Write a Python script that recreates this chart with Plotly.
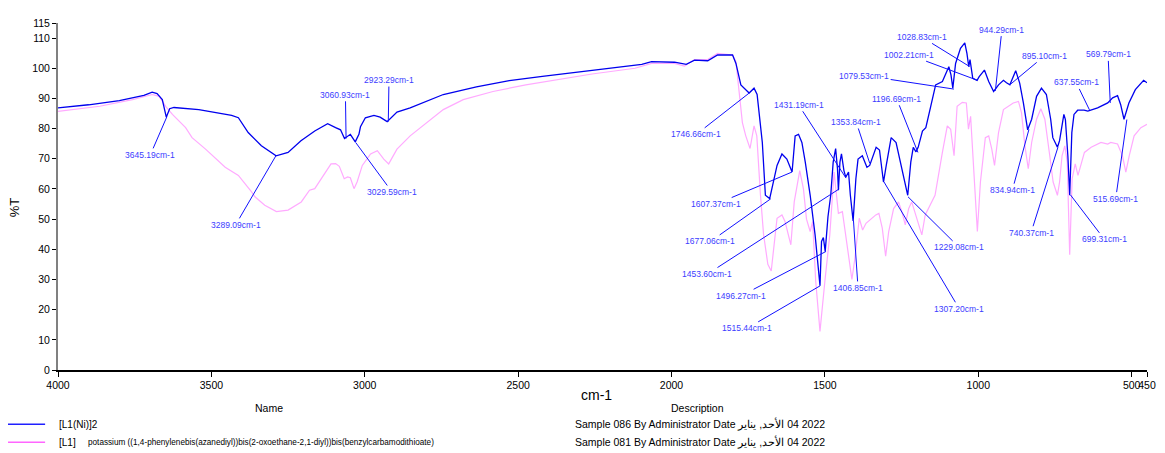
import plotly.graph_objects as go

# ---------------- data ----------------
ni_wn = [4000, 3900, 3800, 3720, 3693, 3677, 3660, 3647, 3636, 3622, 3541, 3470, 3434, 3412,
         3380, 3337, 3289, 3250, 3208, 3163, 3121, 3095, 3079, 3066, 3056, 3047, 3031, 3019,
         3014, 2998, 2970, 2950, 2927, 2895, 2852, 2798, 2744, 2636, 2529, 2421, 2313, 2206,
         2097, 2065, 1990, 1952, 1925, 1882, 1850, 1801, 1790, 1774, 1758, 1747, 1731, 1721,
         1704, 1694, 1680, 1667, 1656, 1640, 1624, 1607, 1597, 1586, 1575, 1564, 1548, 1532,
         1516, 1511, 1505, 1499, 1490, 1481, 1473, 1465, 1459, 1456, 1451, 1446, 1438, 1432,
         1423, 1417, 1408, 1399, 1392, 1378, 1363, 1354, 1333, 1322, 1309, 1300, 1284, 1268,
         1246, 1230, 1220, 1212, 1203, 1196, 1182, 1171, 1155, 1139, 1117, 1107, 1096, 1089,
         1083, 1074, 1058, 1044, 1037, 1031, 1027, 1018, 1012, 1004, 997, 980, 966, 950, 934,
         918, 908, 897, 878, 865, 853, 839, 826, 810, 794, 778, 764, 757, 742, 735, 721, 716,
         708, 702, 695, 688, 676, 655, 643, 611, 578, 562, 546, 536, 525, 509, 488, 466, 461, 450]
ni_t = [86.9, 87.9, 89.3, 91.0, 92.1, 91.6, 89.6, 83.8, 86.6, 87.0, 86.3, 85.0, 84.4, 83.6,
        78.7, 74.3, 71.0, 72.1, 76.0, 79.2, 81.6, 80.3, 79.6, 76.7, 77.4, 78.1, 75.6, 78.1,
        80.6, 83.6, 84.4, 83.8, 82.3, 85.5, 86.9, 89.1, 91.3, 93.8, 95.9, 97.3, 98.7, 100.0,
        101.3, 102.2, 102.0, 101.3, 102.7, 102.5, 104.4, 104.4, 101.6, 94.5, 92.7, 91.8, 93.4, 91.3,
        75.4, 57.9, 56.8, 63.4, 67.8, 71.6, 69.9, 65.6, 77.6, 78.1, 75.4, 68.9, 57.9, 44.8,
        27.9, 42.6, 43.9, 39.3, 50.8, 57.9, 68.9, 73.4, 66.7, 59.6, 68.9, 71.6, 66.1, 63.9,
        65.6, 57.9, 49.4, 63.4, 69.9, 71.0, 67.2, 67.8, 73.8, 72.9, 62.3, 67.8, 77.0, 75.4,
        65.6, 57.9, 68.9, 73.8, 72.3, 73.8, 79.2, 80.3, 87.4, 94.5, 95.6, 97.8, 100.5, 97.8,
        93.4, 101.6, 106.6, 108.4, 104.9, 100.5, 102.9, 96.7, 96.4, 96.0, 97.2, 99.4, 95.6, 92.3, 94.5,
        96.0, 95.2, 94.5, 99.2, 95.1, 88.5, 79.6, 83.1, 90.7, 93.4, 91.3, 83.1, 77.0, 73.8, 76.0, 84.7, 83.0,
        71.0, 57.9, 78.7, 84.7, 86.1, 86.1, 85.8, 86.9, 88.5, 90.2, 90.9, 88.0, 83.1, 88.5, 92.9, 95.6, 96.0, 95.2]

l1_wn = [4000, 3864, 3757, 3693, 3670, 3649, 3627, 3584, 3563, 3519, 3455, 3412, 3369, 3358,
         3326, 3288, 3250, 3207, 3180, 3163, 3110, 3095, 3083, 3067, 3056, 3047, 3035, 3025,
         3008, 2981, 2959, 2938, 2922, 2895, 2852, 2798, 2744, 2679, 2582, 2475, 2367, 2259,
         2119, 2065, 1990, 1958, 1925, 1882, 1850, 1801, 1790, 1780, 1769, 1758, 1744, 1731,
         1722, 1710, 1700, 1686, 1675, 1656, 1640, 1630, 1611, 1600, 1582, 1570, 1560, 1548,
         1540, 1530, 1516, 1500, 1484, 1470, 1456, 1443, 1430, 1412, 1402, 1388, 1377, 1366,
         1334, 1324, 1313, 1302, 1292, 1276, 1260, 1249, 1238, 1227, 1217, 1200, 1184, 1173,
         1163, 1141, 1117, 1101, 1090, 1079, 1069, 1052, 1039, 1032, 1025, 1020, 1003, 993,
         977, 966, 956, 947, 934, 918, 902, 886, 869, 859, 848, 837, 826, 810, 796, 783, 767,
         756, 742, 735, 727, 718, 710, 702, 694, 684, 675, 664, 654, 632, 600, 578, 568, 546,
         530, 519, 508, 492, 470, 450]
l1_t = [85.7, 87.4, 89.6, 91.3, 90.7, 87.4, 84.7, 80.3, 77.0, 73.2, 67.2, 64.5, 59.0, 57.4,
        54.6, 52.5, 53.0, 55.7, 59.6, 60.1, 68.3, 68.4, 67.5, 63.4, 64.0, 63.7, 60.1, 62.3,
        67.8, 71.6, 72.7, 69.9, 68.3, 73.2, 77.6, 82.0, 86.3, 89.6, 92.3, 94.5, 96.4, 98.1,
        100.0, 101.6, 101.6, 100.7, 102.9, 102.9, 104.9, 104.4, 102.2, 93.0, 82.0, 77.6, 73.4, 80.9,
        77.6, 57.9, 45.0, 35.0, 32.8, 50.3, 51.4, 49.2, 41.5, 55.7, 66.1, 60.0, 50.0, 45.9,
        49.2, 29.5, 12.8, 29.5, 44.8, 65.6, 51.9, 52.5, 42.6, 30.0, 37.1, 50.3, 46.4, 48.6,
        51.4, 51.9, 47.0, 37.7, 45.9, 53.5, 55.7, 52.5, 48.1, 53.5, 55.7, 50.3, 44.8, 51.4,
        53.5, 57.9, 72.1, 80.9, 79.8, 71.0, 87.4, 88.7, 88.5, 79.8, 84.1, 75.4, 45.9, 62.3,
        77.0, 77.6, 73.2, 67.8, 78.7, 86.3, 87.4, 88.5, 89.0, 85.2, 74.3, 66.7, 75.4, 83.1, 86.6, 83.1, 71.0,
        62.3, 57.9, 62.3, 71.0, 74.3, 68.9, 38.2, 63.4, 68.3, 64.5, 68.9, 72.1, 73.8, 75.4, 74.9, 75.4, 74.9,
        71.0, 65.6, 71.0, 77.6, 80.3, 81.4]

# peak labels: wavenumber, %T at tip, label position (wavenumber, %T)
peak_wn = [3645.19, 3289.09, 3060.93, 3029.59, 2923.29, 1746.66, 1677.06, 1607.37, 1515.44,
           1496.27, 1453.60, 1431.19, 1406.85, 1353.84, 1307.20, 1229.08, 1196.69, 1079.53,
           1028.83, 1002.21, 944.29, 895.10, 834.94, 740.37, 699.31, 637.55, 569.79, 515.69]
peak_t = [83.9, 71.1, 76.7, 75.4, 82.3, 91.8, 56.7, 65.6, 27.9, 39.3, 60.0, 63.6, 49.5, 68.5,
          62.3, 57.4, 72.1, 93.1, 100.6, 96.0, 92.5, 94.7, 79.7, 73.8, 58.0, 86.2, 88.5, 83.0]
label_wn = [3699, 3421, 3063, 2911, 2921, 1919, 1873, 1854, 1754, 1773, 1883, 1586, 1392, 1398,
            1062, 1062, 1266, 1372, 1185, 1227, 923, 784, 889, 828, 589, 681, 577, 552]
label_t = [71.3, 48.1, 91.2, 59.0, 96.1, 78.1, 42.6, 55.0, 13.8, 24.6, 31.8, 87.9, 27.2, 82.2,
           20.3, 40.6, 89.9, 97.6, 110.4, 104.5, 112.8, 104.1, 59.6, 45.5, 43.3, 95.3, 104.6, 56.8]

x_ticks = [4000, 3500, 3000, 2500, 2000, 1500, 1000, 500, 450]
y_ticks = [0, 10, 20, 30, 40, 50, 60, 70, 80, 90, 100, 110, 115]

names = ["[L1(Ni)]2", "[L1]"]
long_name = "potassium ((1,4-phenylenebis(azanediyl))bis(2-oxoethane-2,1-diyl))bis(benzylcarbamodithioate)"
descriptions = ["Sample 086 By Administrator Date الأحد, يناير\u200e 04 2022",
                "Sample 081 By Administrator Date الأحد, يناير\u200e 04 2022"]

FONT = "Liberation Sans, Arial, sans-serif"
BLUE = "#0000ee"
PINK = "#ffaaff"
LBL = "#3c3cff"

fig = go.Figure()
fig.add_trace(go.Scatter(x=l1_wn, y=l1_t, mode="lines", line=dict(color=PINK, width=1.2),
                         name=names[1], showlegend=False, hoverinfo="x+y"))
fig.add_trace(go.Scatter(x=ni_wn, y=ni_t, mode="lines", line=dict(color=BLUE, width=1.3),
                         name=names[0], showlegend=False, hoverinfo="x+y"))

for wn, t, lw, lt in zip(peak_wn, peak_t, label_wn, label_t):
    fig.add_annotation(x=wn, y=t, xref="x", yref="y", ax=lw, ay=lt, axref="x", ayref="y",
                       text=f"{wn:.2f}cm-1", showarrow=True, arrowhead=0, arrowwidth=1,
                       arrowcolor="#1010ff", font=dict(family=FONT, size=8.5, color=LBL),
                       standoff=0, startstandoff=0)

# the page body has an 8px margin, so the figure is drawn 8px in from the window corner
OFF = 8
W, H = 1165 - OFF, 453 - OFF
L, R, T, B = 58 - OFF, 9, 19 - OFF, 83
pw, ph = W - L - R, H - T - B


def px(xp):
    return (xp - OFF - L) / pw


def py(yp):
    return (H - B - (yp - OFF)) / ph


def note(xp, yp, text, size, anchor="center", angle=0):
    fig.add_annotation(x=px(xp), y=py(yp), xref="paper", yref="paper", text=text, showarrow=False,
                       xanchor=anchor, yanchor="middle", textangle=angle,
                       font=dict(family=FONT, size=size, color="black"))


# axis titles
note(601, 395, "cm-1", 14)
note(15, 205, "%T", 13, angle=-90)

# legend table
note(271, 408, "Name", 10.5)
note(703, 408, "Description", 10.5)
rows_y = [425, 443]
line_cols = ["#2020ff", "#ff66ff"]
for i, yy in enumerate(rows_y):
    fig.add_shape(type="line", xref="paper", yref="paper", x0=px(7), x1=px(45), y0=py(yy), y1=py(yy),
                  line=dict(color=line_cols[i], width=1.5))
    note(57, yy, names[i], 10, anchor="left")
    note(577, yy, descriptions[i], 10.5, anchor="left")
note(86, 443, long_name, 8.2, anchor="left")

fig.update_layout(
    width=W, height=H, margin=dict(l=L, r=R, t=T, b=B),
    paper_bgcolor="white", plot_bgcolor="white",
    font=dict(family=FONT, size=10, color="black"),
    xaxis=dict(range=[4000, 450], tickvals=x_ticks, ticktext=[str(v) for v in x_ticks],
               tickangle=0, showgrid=False, zeroline=False, showline=True, linecolor="black",
               linewidth=1.5, ticks="outside", ticklen=5, tickcolor="black",
               tickfont=dict(family=FONT, size=10.5)),
    yaxis=dict(range=[0, 115], tickvals=y_ticks, ticktext=[str(v) for v in y_ticks],
               showgrid=False, zeroline=False, showline=True, linecolor="#808080", linewidth=2,
               ticks="outside", ticklen=4, tickcolor="black", tickfont=dict(family=FONT, size=10.5)),
)

fig.write_html("out.html")
